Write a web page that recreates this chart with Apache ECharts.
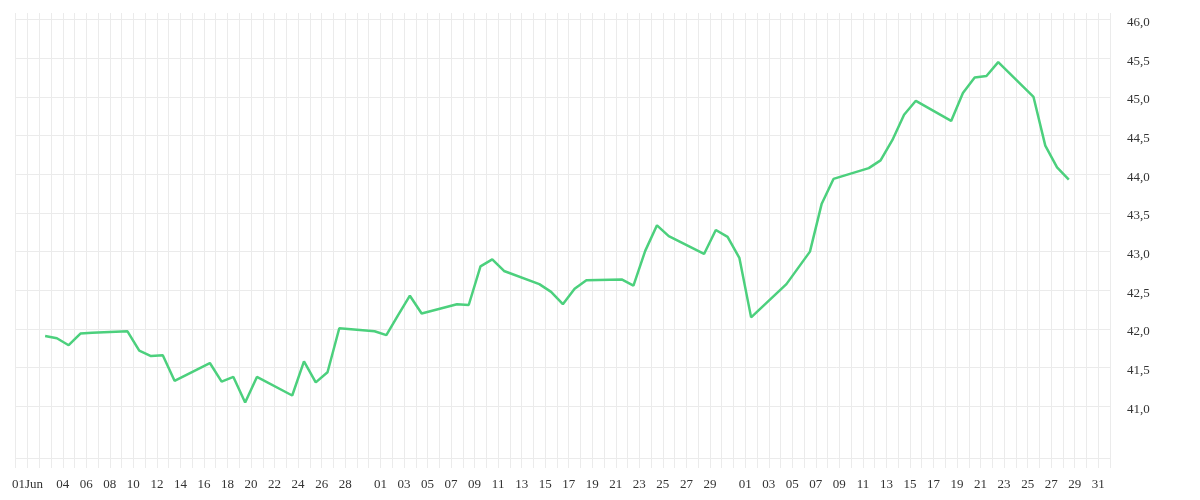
<!DOCTYPE html>
<html>
<head>
<meta charset="utf-8">
<script src="https://cdn.jsdelivr.net/npm/echarts@6/dist/echarts.min.js"></script>
<style>
html,body{margin:0;padding:0;background:#fff;}
#chart{width:1200px;height:500px;}
</style>
</head>
<body>
<div id="chart"></div>
<script>
// ---- data ----
var dates = [
  '2025-06-02','2025-06-03','2025-06-04','2025-06-05','2025-06-06',
  '2025-06-09','2025-06-10','2025-06-11','2025-06-12','2025-06-13',
  '2025-06-16','2025-06-17','2025-06-18','2025-06-19','2025-06-20',
  '2025-06-23','2025-06-24','2025-06-25','2025-06-26','2025-06-27',
  '2025-06-30','2025-07-01','2025-07-02','2025-07-03','2025-07-04',
  '2025-07-07','2025-07-08','2025-07-09','2025-07-10','2025-07-11',
  '2025-07-14','2025-07-15','2025-07-16','2025-07-17','2025-07-18',
  '2025-07-21','2025-07-22','2025-07-23','2025-07-24','2025-07-25',
  '2025-07-28','2025-07-29','2025-07-30','2025-07-31','2025-08-01',
  '2025-08-04','2025-08-05','2025-08-06','2025-08-07','2025-08-08',
  '2025-08-11','2025-08-12','2025-08-13','2025-08-14','2025-08-15',
  '2025-08-18','2025-08-19','2025-08-20','2025-08-21','2025-08-22',
  '2025-08-25','2025-08-26','2025-08-27','2025-08-28'
];
var values = [
  41.91, 41.88, 41.79, 41.94, 41.95,
  41.97, 41.72, 41.65, 41.66, 41.33,
  41.56, 41.32, 41.38, 41.05, 41.38,
  41.14, 41.58, 41.31, 41.44, 42.01,
  41.97, 41.92, 42.18, 42.43, 42.20,
  42.32, 42.31, 42.81, 42.90, 42.75,
  42.58, 42.48, 42.32, 42.52, 42.63,
  42.64, 42.56, 43.01, 43.34, 43.20,
  42.97, 43.28, 43.19, 42.92, 42.15,
  42.58, 42.79, 43.00, 43.62, 43.94,
  44.08, 44.18, 44.44, 44.77, 44.95,
  44.69, 45.05, 45.25, 45.27, 45.45,
  45.00, 44.37, 44.09, 43.93
];
var labelDates = [
  '2025-06-01','2025-06-04','2025-06-06','2025-06-08','2025-06-10','2025-06-12','2025-06-14',
  '2025-06-16','2025-06-18','2025-06-20','2025-06-22','2025-06-24','2025-06-26','2025-06-28',
  '2025-07-01','2025-07-03','2025-07-05','2025-07-07','2025-07-09','2025-07-11','2025-07-13',
  '2025-07-15','2025-07-17','2025-07-19','2025-07-21','2025-07-23','2025-07-25','2025-07-27','2025-07-29',
  '2025-08-01','2025-08-03','2025-08-05','2025-08-07','2025-08-09','2025-08-11','2025-08-13',
  '2025-08-15','2025-08-17','2025-08-19','2025-08-21','2025-08-23','2025-08-25','2025-08-27',
  '2025-08-29','2025-08-31'
];
var labelTexts = [
  '01Jun','04','06','08','10','12','14',
  '16','18','20','22','24','26','28',
  '01','03','05','07','09','11','13',
  '15','17','19','21','23','25','27','29',
  '01','03','05','07','09','11','13',
  '15','17','19','21','23','25','27',
  '29','31'
];
var yTicks = [41.0, 41.5, 42.0, 42.5, 43.0, 43.5, 44.0, 44.5, 45.0, 45.5, 46.0];
var axisStart = '2025-05-31';
var axisEnd = '2025-09-01';
var yMin = 40.332, yMax = 46.085;

// ---- build ----
var DAY = 86400000;
function ts(s){ return Date.parse(s + 'T00:00:00Z'); }
var labelMap = {};
labelDates.forEach(function(d, i){ labelMap[ts(d)] = labelTexts[i]; });
var seriesData = dates.map(function(d, i){ return [ts(d) + DAY / 2, values[i]]; });

var gridColor = '#ebebeb';
var font = 'Liberation Serif';

var chart = echarts.init(document.getElementById('chart'));
chart.setOption({
  animation: false,
  grid: { left: 15.7, right: 90, top: 13, bottom: 42, containLabel: false },
  xAxis: {
    type: 'value',
    min: ts(axisStart),
    max: ts(axisEnd),
    interval: DAY,
    axisLine: { show: true, lineStyle: { color: gridColor, width: 1 } },
    axisTick: { show: true, length: 10, lineStyle: { color: gridColor } },
    splitLine: { show: true, lineStyle: { color: gridColor, width: 1 } },
    axisLabel: {
      show: true,
      margin: 20,
      color: '#333',
      fontFamily: font,
      fontSize: 13,
      showMinLabel: true,
      showMaxLabel: true,
      formatter: function(v){ return labelMap[v] || ''; }
    }
  },
  yAxis: {
    type: 'value',
    position: 'right',
    min: yMin,
    max: yMax,
    axisLine: { show: false },
    axisTick: { show: false, customValues: yTicks },
    splitLine: { show: true, lineStyle: { color: gridColor, width: 1 } },
    axisLabel: {
      show: true,
      customValues: yTicks,
      margin: 17,
      color: '#333',
      fontFamily: font,
      fontSize: 13,
      verticalAlign: 'top',
      lineHeight: 6,
      formatter: function(v){ return v.toFixed(1).replace('.', ','); }
    }
  },
  series: [{
    type: 'line',
    data: seriesData,
    showSymbol: false,
    symbol: 'none',
    smooth: false,
    lineStyle: { color: '#4cd07d', width: 2.5 },
    itemStyle: { color: '#4cd07d' }
  }]
});
</script>
</body>
</html>
